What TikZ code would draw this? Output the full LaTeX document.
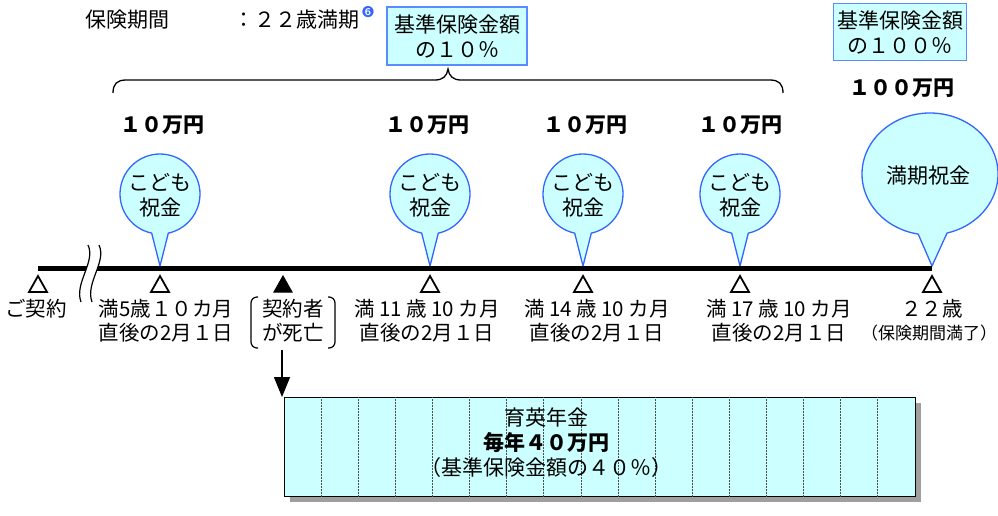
\documentclass[tikz,border=0pt]{standalone}
\usepackage{fontspec}
\setmainfont{Noto Sans CJK JP}
\newfontfamily\dejavu{DejaVu Sans}
\usetikzlibrary{arrows.meta,calc}
\definecolor{lcyan}{HTML}{CCFFFF}
\definecolor{bblue}{HTML}{3366FF}
\definecolor{boxblue}{HTML}{5B8CFF}
\begin{document}
\begin{tikzpicture}[x=1pt,y=-1pt,
  txt/.style={font=\fontsize{21}{24}\selectfont, inner sep=0pt, align=center},
  lbl/.style={font=\fontsize{20.5}{24}\selectfont, inner sep=0pt, align=center},
  boxtxt/.style={font=\fontsize{21}{25}\selectfont, inner sep=0pt, align=center},
  btxt/.style={font=\fontsize{21}{24}\selectfont\bfseries, inner sep=0pt},
  pctbox/.style={draw=boxblue, fill=lcyan, line width=1.2pt, inner sep=0pt, align=center, font=\fontsize{21}{25}\selectfont},
  balloon/.style={draw=bblue, fill=lcyan, line width=1.3pt, line join=round},
  tri/.style={draw=black, fill=white, line width=1.8pt, line join=miter},
  ftri/.style={draw=black, fill=black, line width=1pt},
  breakline/.style={line width=1.2pt},
  arrowline/.style={line width=1.5pt, -{Triangle[width=16pt,length=20pt]}},
  ]
\useasboundingbox (0,0) rectangle (998,515);

% header
\node[txt] (period) at (127,20) {保険期間};
\node[txt, anchor=west] (term) at (233,20) {：２２歳満期};
\node[inner sep=0pt, font=\dejavu\fontsize{15}{15}\selectfont, text=bblue] (note) at (368,12) {❻};

% percent boxes
\node[pctbox, minimum width=140pt, minimum height=58pt] (pct10) at (457,36) {基準保険金額\\の１０％};
\node[pctbox, minimum width=133pt, minimum height=57pt] (pct100) at (900,32) {基準保険金額\\の１００％};

% brace
\draw[line width=1.3pt] (113,93) .. controls (113,84) and (117,80) .. (126,80) -- (435,80)
  .. controls (443,80) and (447,76) .. (448,69) .. controls (449,76) and (453,80) .. (461,80)
  -- (770,80) .. controls (779,80) and (783,84) .. (783,93);

% amounts
\node[btxt] (amt1) at (162,125) {１０万円};
\node[btxt] (amt2) at (427,125) {１０万円};
\node[btxt] (amt3) at (585,125) {１０万円};
\node[btxt] (amt4) at (740,125) {１０万円};
\node[btxt] (amt5) at (902,88) {１００万円};

% balloons
\foreach \cx/\nm in {160/b1,430/b2,583/b3,740/b4}{
  \draw[balloon] ($(\cx,194)+(102:40)$) arc[start angle=102, end angle=438, radius=40] -- (\cx,266) -- cycle;
  \node[txt, font=\fontsize{21}{25}\selectfont] (\nm) at (\cx,195) {こども\\祝金};
}
\draw[balloon] ($(930,174)+(100:68 and 61)$) arc[start angle=100, end angle=435.5, x radius=68, y radius=61] -- (932,266) -- cycle;
\node[txt] (b5) at (928,176) {満期祝金};

% timeline
\draw[line width=5pt] (38,268) -- (932,268);
\fill[white] (88,245) .. controls (96,262) and (74,283) .. (81,302) -- (92,302)
  .. controls (85,283) and (107,262) .. (99,245) -- cycle;
\draw[breakline] (88,245) .. controls (96,262) and (74,283) .. (81,302);
\draw[breakline] (99,245) .. controls (107,262) and (85,283) .. (92,302);

% triangles
\foreach \x in {38,160,430,583,740,932}{
  \draw[tri] (\x,276) -- (\x+9,292) -- (\x-9,292) -- cycle;
}
\draw[ftri] (283,276) -- (292,292) -- (274,292) -- cycle;

% labels
\node[lbl] (contract) at (36,309) {ご契約};
\node[lbl] (age5) at (166,321) {満5歳１０カ月\\直後の2月１日};
\node[lbl] (death) at (293,321) {契約者\\が死亡};
\draw[line width=1.2pt, rounded corners=6pt] (258,297) -- (251,297) -- (251,348) -- (258,348);
\draw[line width=1.2pt, rounded corners=6pt] (328,297) -- (335,297) -- (335,348) -- (328,348);
\node[lbl] (age11) at (427,321) {満 11 歳 10 カ月\\直後の2月１日};
\node[lbl] (age14) at (597,321) {満 14 歳 10 カ月\\直後の2月１日};
\node[lbl] (age17) at (779,321) {満 17 歳 10 カ月\\直後の2月１日};
\node[lbl] (age22) at (932,309) {２２歳};
\node[lbl, font=\fontsize{17}{20}\selectfont] (end) at (929,333) {（保険期間満了）};

% pension box
\fill[gray!75] (290,403) rectangle (921,502);
\node[draw=black, fill=lcyan, line width=1pt, minimum width=631pt, minimum height=99pt, anchor=north west, inner sep=0pt] (pension) at (284,397) {};
\foreach \k in {1,...,16}{
  \draw[gray!60!black, line width=0.5pt, densely dotted] ($(pension.north west)+(37.1*\k,0)$) -- ($(pension.south west)+(37.1*\k,0)$);
}
\node[boxtxt] (ptext) at (546,443) {育英年金\\\textbf{毎年４０万円}\\（基準保険金額の４０％）};

% arrow
\coordinate (arrstart) at (282,350);
\draw[arrowline] (arrstart) -- (arrstart |- pension.north);
\end{tikzpicture}
\end{document}
